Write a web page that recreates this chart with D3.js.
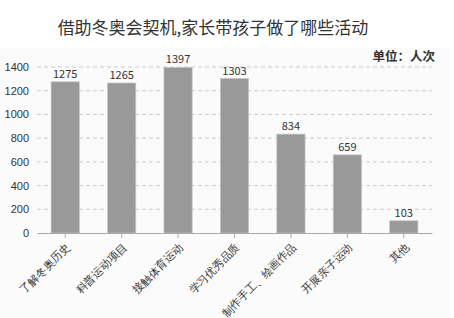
<!DOCTYPE html>
<html>
  <head>
    <meta charset="utf-8">
    <title>借助冬奥会契机</title>
    <script src="https://d3js.org/d3.v7.min.js"></script>
    <style>
      body { margin: 0; background: #fff; }
      svg { font-family: "Noto Sans CJK SC", "Noto Sans", sans-serif; }
    </style>
  </head>
  <body>
    <svg id="chart" width="454" height="318"></svg>
    <script>
      // data
      categories = ["了解冬奥历史", "科普运动项目", "接触体育运动", "学习优秀品质", "制作手工、绘画作品", "开展亲子运动", "其他"];
      values = [1275, 1265, 1397, 1303, 834, 659, 103];
      yTicks = [0, 200, 400, 600, 800, 1000, 1200, 1400];

      svg = d3.select("#chart");
      width = 454;
      height = 318;
      margin = { top: 67, right: 22, bottom: 85, left: 37 };

      // faint panel behind the plot
      svg.append("rect")
        .attr("x", 0).attr("y", 48)
        .attr("width", 450).attr("height", 270)
        .attr("fill", "#fbfbfb");

      x = d3.scaleBand()
        .domain(categories)
        .range([margin.left, width - margin.right])
        .paddingInner(0.5)
        .paddingOuter(0.25);
      y = d3.scaleLinear()
        .domain([0, 1400])
        .range([height - margin.bottom, margin.top]);

      // grid
      svg.append("g")
        .selectAll("line")
        .data(yTicks.filter(d => d > 0))
        .join("line")
          .attr("x1", margin.left)
          .attr("x2", width - margin.right)
          .attr("y1", d => y(d))
          .attr("y2", d => y(d))
          .attr("stroke", "#ccc")
          .attr("stroke-dasharray", "4,3");

      // y axis labels
      yAxis = svg.append("g")
        .attr("transform", "translate(" + margin.left + ",0)")
        .call(d3.axisLeft(y).tickValues(yTicks).tickFormat(d3.format("d")).tickSize(0).tickPadding(8));
      yAxis.select(".domain").remove();
      yAxis.selectAll("text")
        .attr("font-size", 11)
        .attr("fill", "#333");

      // bars
      svg.append("g")
        .selectAll("rect")
        .data(values)
        .join("rect")
          .attr("x", (d, i) => x(categories[i]))
          .attr("y", d => y(d))
          .attr("width", x.bandwidth())
          .attr("height", d => y(0) - y(d))
          .attr("fill", "#999")
          .attr("stroke", "#c4c4c4")
          .attr("stroke-width", 0.7);

      // value labels
      svg.append("g")
        .selectAll("text")
        .data(values)
        .join("text")
          .attr("x", (d, i) => x(categories[i]) + x.bandwidth() / 2)
          .attr("y", d => y(d) - 4)
          .attr("text-anchor", "middle")
          .attr("font-size", 11)
          .attr("fill", "#333")
          .text(d => d);

      // x axis
      xAxis = svg.append("g")
        .attr("transform", "translate(0," + y(0) + ")")
        .call(d3.axisBottom(x).tickSize(5).tickSizeOuter(0));
      xAxis.select(".domain").attr("stroke", "#aaa");
      xAxis.selectAll(".tick line").attr("stroke", "#aaa");
      xAxis.selectAll("text")
        .attr("font-size", 11)
        .attr("fill", "#333")
        .attr("text-anchor", "end")
        .attr("y", 0)
        .attr("dy", "0.35em")
        .attr("transform", "translate(3,12) rotate(-45)");

      // title
      svg.append("text")
        .attr("x", 213)
        .attr("y", 34)
        .attr("text-anchor", "middle")
        .attr("font-size", 17)
        .attr("fill", "#333")
        .text("借助冬奥会契机,家长带孩子做了哪些活动");

      svg.append("text")
        .attr("x", 435)
        .attr("y", 61)
        .attr("text-anchor", "end")
        .attr("font-size", 12.5)
        .attr("font-weight", "bold")
        .attr("fill", "#333")
        .text("单位：人次");
    </script>
  </body>
</html>
